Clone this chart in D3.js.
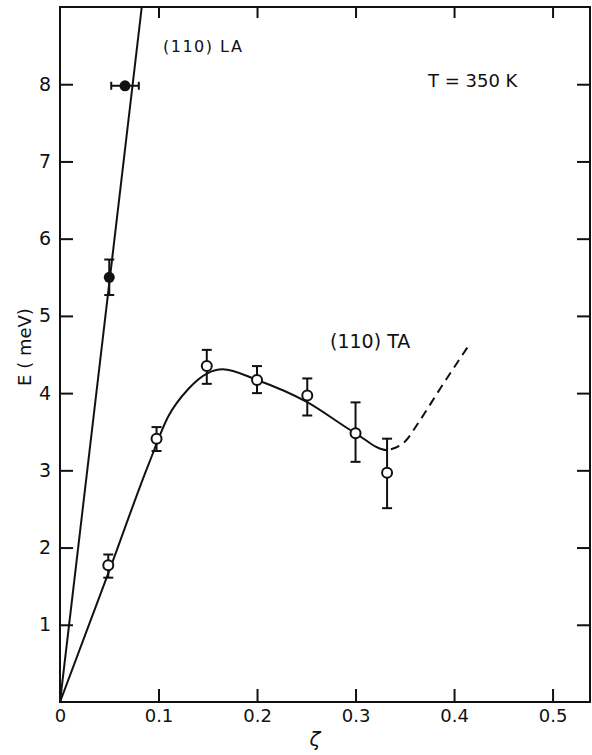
<!DOCTYPE html>
<html>
<head>
<meta charset="utf-8">
<script src="https://cdn.jsdelivr.net/npm/d3@7"></script>
<style>
  body { margin: 0; background: #fff; }
  svg text { font-family: "DejaVu Sans", sans-serif; fill: #111; }
</style>
</head>
<body>
<div id="chart"></div>
<script>
// LA branch (filled points)
const laZeta = [0.05, 0.066];
const laE = [5.5, 7.98];
const laErrE = [0.23, 0];
const laErrZeta = [0, 0.014];
const laLineZeta = [0, 0.083];
const laLineE = [0, 9];

// TA branch (open points)
const taZeta = [0.049, 0.098, 0.149, 0.2, 0.251, 0.3, 0.332];
const taE = [1.77, 3.41, 4.35, 4.17, 3.97, 3.48, 2.97];
const taErrLo = [1.61, 3.25, 4.12, 4.0, 3.71, 3.11, 2.51];
const taErrHi = [1.91, 3.56, 4.56, 4.35, 4.19, 3.88, 3.41];

// fitted curve: solid up to the minimum, dashed after it
const taFitZeta = [0, 0.05, 0.09, 0.11, 0.13, 0.15, 0.165, 0.2, 0.25, 0.3, 0.332];
const taFitE = [0, 1.7, 3.08, 3.7, 4.05, 4.26, 4.31, 4.17, 3.89, 3.48, 3.26];
const taDashZeta = [0.35, 0.364, 0.386, 0.414];
const taDashE = [3.37, 3.62, 4.06, 4.6];
const taSplit = 0.332;

const xTicks = [0, 0.1, 0.2, 0.3, 0.4, 0.5];
const xTickLabels = ["0", "0.1", "0.2", "0.3", "0.4", "0.5"];
const yTicks = [1, 2, 3, 4, 5, 6, 7, 8];

let width = 592, height = 755;
let margin = {top: 7, right: 2, bottom: 53, left: 60};

let svg = d3.select("#chart").append("svg")
    .attr("width", width)
    .attr("height", height);

let x = d3.scaleLinear().domain([0, 0.538]).range([margin.left, width - margin.right]);
let y = d3.scaleLinear().domain([0, 9]).range([height - margin.bottom, margin.top]);

let tick = 13;
let stroke = "#111";

// frame
svg.append("rect")
    .attr("x", x(0)).attr("y", y(9))
    .attr("width", x(0.538) - x(0)).attr("height", y(0) - y(9))
    .attr("fill", "none").attr("stroke", stroke).attr("stroke-width", 2);

// axes with inward ticks
let xAxis = svg.append("g").attr("transform", `translate(0,${y(0)})`)
    .call(d3.axisBottom(x).tickValues(xTicks).tickSize(-tick).tickFormat((d, i) => xTickLabels[i]));
let xTop = svg.append("g").attr("transform", `translate(0,${y(9)})`)
    .call(d3.axisTop(x).tickValues(xTicks.slice(1)).tickSize(-11).tickFormat(""));
let yAxis = svg.append("g").attr("transform", `translate(${x(0)},0)`)
    .call(d3.axisLeft(y).tickValues(yTicks).tickSize(-tick).tickFormat(d3.format("d")));
let yRight = svg.append("g").attr("transform", `translate(${x(0.538)},0)`)
    .call(d3.axisRight(y).tickValues(yTicks).tickSize(-tick).tickFormat(""));

svg.selectAll(".domain").remove();
svg.selectAll(".tick line").attr("stroke", stroke).attr("stroke-width", 2);
xAxis.selectAll("text").attr("font-size", 18).attr("dy", "0.3em").attr("y", 15);
yAxis.selectAll("text").attr("font-size", 19).attr("x", -9);

// axis titles
svg.append("text")
    .attr("x", 315).attr("y", 746)
    .attr("text-anchor", "middle")
    .attr("font-size", 20).attr("font-style", "italic")
    .text("ζ");
svg.append("text")
    .attr("transform", "translate(31,347) rotate(-90)")
    .attr("text-anchor", "middle")
    .attr("font-size", 18)
    .text("E ( meV)");

// annotations
svg.append("text").attr("x", 163).attr("y", 52).attr("font-size", 16)
    .attr("letter-spacing", 1.5).text("(110) LA");
svg.append("text").attr("x", 428).attr("y", 87).attr("font-size", 18).text("T = 350 K");
svg.append("text").attr("x", 330).attr("y", 348).attr("font-size", 19).text("(110) TA");

// clip to frame
svg.append("clipPath").attr("id", "clip").append("rect")
    .attr("x", x(0)).attr("y", y(9))
    .attr("width", x(0.538) - x(0)).attr("height", y(0) - y(9));
svg.append("clipPath").attr("id", "clipSolid").append("rect")
    .attr("x", x(0) - 5).attr("y", 0)
    .attr("width", x(taSplit) - x(0) + 5).attr("height", height);
svg.append("clipPath").attr("id", "clipDash").append("rect")
    .attr("x", x(taSplit)).attr("y", 0)
    .attr("width", width).attr("height", height);

let plot = svg.append("g").attr("clip-path", "url(#clip)");

let line = d3.line().x(d => x(d[0])).y(d => y(d[1]));
let smooth = d3.line().x(d => x(d[0])).y(d => y(d[1])).curve(d3.curveMonotoneX);

plot.append("path")
    .datum(laLineZeta.map((z, i) => [z, laLineE[i]]))
    .attr("d", line)
    .attr("fill", "none").attr("stroke", stroke).attr("stroke-width", 2);

// one smooth curve, drawn twice with different clips
let fit = taFitZeta.map((z, i) => [z, taFitE[i]])
    .concat(taDashZeta.map((z, i) => [z, taDashE[i]]));

plot.append("g").attr("clip-path", "url(#clipSolid)").append("path")
    .datum(fit)
    .attr("d", smooth)
    .attr("fill", "none").attr("stroke", stroke).attr("stroke-width", 2);

plot.append("g").attr("clip-path", "url(#clipDash)").append("path")
    .datum(fit.filter(d => d[0] >= taSplit))
    .attr("d", smooth)
    .attr("fill", "none").attr("stroke", stroke).attr("stroke-width", 2)
    .attr("stroke-dasharray", "9,6")
    .attr("stroke-dashoffset", -4);

let cap = 5;

// TA error bars
let taData = taZeta.map((z, i) => ({z: z, e: taE[i], lo: taErrLo[i], hi: taErrHi[i]}));
let taErr = plot.append("g").selectAll("g").data(taData).enter().append("g")
    .attr("stroke", stroke).attr("stroke-width", 2);
taErr.append("line")
    .attr("x1", d => x(d.z)).attr("x2", d => x(d.z))
    .attr("y1", d => y(d.lo)).attr("y2", d => y(d.hi));
taErr.append("line")
    .attr("x1", d => x(d.z) - cap).attr("x2", d => x(d.z) + cap)
    .attr("y1", d => y(d.lo)).attr("y2", d => y(d.lo));
taErr.append("line")
    .attr("x1", d => x(d.z) - cap).attr("x2", d => x(d.z) + cap)
    .attr("y1", d => y(d.hi)).attr("y2", d => y(d.hi));
plot.append("g").selectAll("circle").data(taData).enter().append("circle")
    .attr("cx", d => x(d.z)).attr("cy", d => y(d.e)).attr("r", 5)
    .attr("fill", "#fff").attr("stroke", stroke).attr("stroke-width", 2);

// LA error bars
let laData = laZeta.map((z, i) => ({z: z, e: laE[i], de: laErrE[i], dz: laErrZeta[i]}));
let laErr = plot.append("g").selectAll("g").data(laData).enter().append("g")
    .attr("stroke", stroke).attr("stroke-width", 2);
laErr.filter(d => d.de > 0).each(function (d) {
    let g = d3.select(this);
    g.append("line").attr("x1", x(d.z)).attr("x2", x(d.z)).attr("y1", y(d.e - d.de)).attr("y2", y(d.e + d.de));
    g.append("line").attr("x1", x(d.z) - cap).attr("x2", x(d.z) + cap).attr("y1", y(d.e - d.de)).attr("y2", y(d.e - d.de));
    g.append("line").attr("x1", x(d.z) - cap).attr("x2", x(d.z) + cap).attr("y1", y(d.e + d.de)).attr("y2", y(d.e + d.de));
});
laErr.filter(d => d.dz > 0).each(function (d) {
    let g = d3.select(this);
    g.append("line").attr("x1", x(d.z - d.dz)).attr("x2", x(d.z + d.dz)).attr("y1", y(d.e)).attr("y2", y(d.e));
    g.append("line").attr("x1", x(d.z - d.dz)).attr("x2", x(d.z - d.dz)).attr("y1", y(d.e) - 4).attr("y2", y(d.e) + 4);
    g.append("line").attr("x1", x(d.z + d.dz)).attr("x2", x(d.z + d.dz)).attr("y1", y(d.e) - 4).attr("y2", y(d.e) + 4);
});
plot.append("g").selectAll("circle").data(laData).enter().append("circle")
    .attr("cx", d => x(d.z)).attr("cy", d => y(d.e)).attr("r", 5.5)
    .attr("fill", stroke);
</script>
</body>
</html>
